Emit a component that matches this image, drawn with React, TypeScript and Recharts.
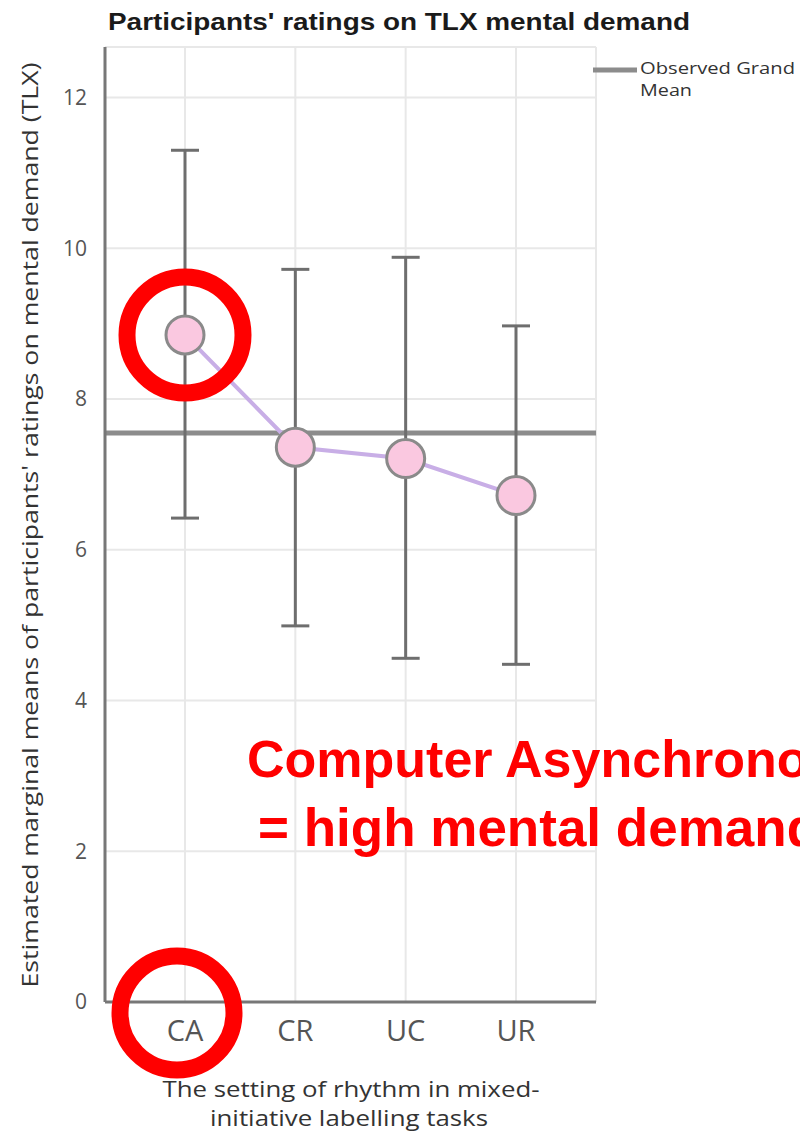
import {
  ComposedChart,
  Line,
  ErrorBar,
  XAxis,
  YAxis,
  CartesianGrid,
  ReferenceLine,
  ReferenceDot,
} from "recharts";

const categories = ["CA", "CR", "UC", "UR"];
const means = [8.85, 7.36, 7.21, 6.72];
const lowerCI = [6.42, 4.99, 4.56, 4.48];
const upperCI = [11.3, 9.72, 9.88, 8.97];
const grandMean = 7.55;
const yTicks = [0, 2, 4, 6, 8, 10, 12];

const data = categories.map((c, i) => ({
  name: c,
  mean: means[i],
  err: [means[i] - lowerCI[i], upperCI[i] - means[i]],
}));

const FONT = "'Liberation Sans', Arial, sans-serif";
const TICK = "'Open Sans', sans-serif";

export default function App() {
  return (
    <div
      style={{
        position: "absolute",
        left: 0,
        top: 0,
        width: 800,
        height: 1136,
        overflow: "hidden",
        background: "#fff",
      }}
    >
      <ComposedChart
        width={800}
        height={1136}
        data={data}
        margin={{ top: 47, right: 204, bottom: 74, left: 45 }}
      >
        <CartesianGrid stroke="#e8e8e8" strokeWidth={2} />
        <XAxis
          dataKey="name"
          scale="point"
          padding={{ left: 80, right: 80 }}
          height={60}
          axisLine={{ stroke: "#777", strokeWidth: 3 }}
          tickLine={false}
          tickMargin={12}
          tick={{ fill: "#555", fontSize: 29, fontFamily: TICK }}
        />
        <YAxis
          type="number"
          domain={[0, 12.67]}
          ticks={yTicks}
          width={60}
          axisLine={{ stroke: "#777", strokeWidth: 3 }}
          tickLine={false}
          tickMargin={12}
          tick={{ fill: "#555", fontSize: 21, fontFamily: TICK }}
        />
        <ReferenceLine y={grandMean} stroke="#8c8c8c" strokeWidth={5} />
        <Line
          dataKey="mean"
          stroke="#c8aee6"
          strokeWidth={4}
          isAnimationActive={false}
          dot={{ r: 19, fill: "#fac8e0", stroke: "#8a8a8a", strokeWidth: 3 }}
          activeDot={false}
        >
          <ErrorBar
            dataKey="err"
            direction="y"
            width={14}
            stroke="#6e6e6e"
            strokeWidth={3}
            isAnimationActive={false}
          />
        </Line>
        <ReferenceDot
          x="CA"
          y={means[0]}
          r={58}
          fill="none"
          stroke="#ff0000"
          strokeWidth={17}
          ifOverflow="visible"
        />
      </ComposedChart>

      <svg
        width={800}
        height={1136}
        style={{ position: "absolute", left: 0, top: 0, pointerEvents: "none" }}
      >
        <text
          x={399}
          y={30}
          textAnchor="middle"
          fontFamily={FONT}
          fontWeight="bold"
          fontSize={24}
          fill="#1a1a1a"
          textLength={582}
          lengthAdjust="spacingAndGlyphs"
        >
          Participants' ratings on TLX mental demand
        </text>
        <text
          transform="translate(38,525) rotate(-90)"
          textAnchor="middle"
          fontFamily={TICK}
          fontSize={22}
          fill="#333"
          textLength={925}
          lengthAdjust="spacingAndGlyphs"
        >
          Estimated marginal means of participants' ratings on mental demand (TLX)
        </text>
        <text
          x={351}
          y={1097}
          textAnchor="middle"
          fontFamily={TICK}
          fontSize={22}
          fill="#333"
          textLength={377}
          lengthAdjust="spacingAndGlyphs"
        >
          The setting of rhythm in mixed-
        </text>
        <text
          x={349}
          y={1126}
          textAnchor="middle"
          fontFamily={TICK}
          fontSize={22}
          fill="#333"
          textLength={278}
          lengthAdjust="spacingAndGlyphs"
        >
          initiative labelling tasks
        </text>

        <line x1={593} y1={70} x2={637} y2={70} stroke="#8c8c8c" strokeWidth={5} />
        <text
          x={640}
          y={74}
          fontFamily={TICK}
          fontSize={17}
          fill="#333"
          textLength={155}
          lengthAdjust="spacingAndGlyphs"
        >
          Observed Grand
        </text>
        <text
          x={640}
          y={96}
          fontFamily={TICK}
          fontSize={17}
          fill="#333"
          textLength={52}
          lengthAdjust="spacingAndGlyphs"
        >
          Mean
        </text>

        <circle cx={177} cy={1013} r={57} fill="none" stroke="#ff0000" strokeWidth={17} />
        <text x={247} y={777} fontFamily={FONT} fontWeight="bold" fontSize={52} fill="#ff0000">
          Computer Asynchronous
        </text>
        <text x={258} y={846} fontFamily={FONT} fontWeight="bold" fontSize={53} fill="#ff0000">
          = high mental demand
        </text>
      </svg>
    </div>
  );
}
